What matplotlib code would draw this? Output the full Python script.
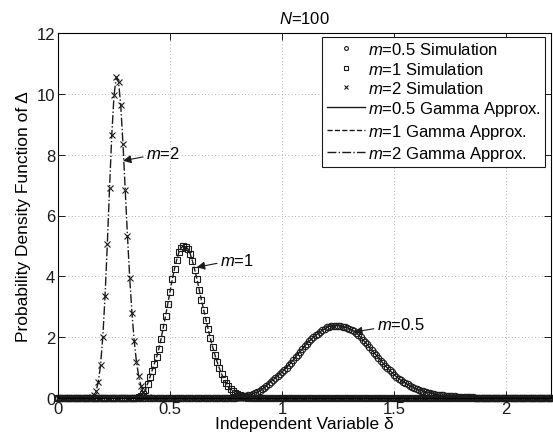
import numpy as np
import matplotlib
matplotlib.use('Agg')
import matplotlib.pyplot as plt

plt.rcParams['font.family'] = ['Liberation Sans', 'DejaVu Sans']
plt.rcParams['mathtext.fontset'] = 'custom'
plt.rcParams['mathtext.it'] = 'Liberation Sans:italic'
plt.rcParams['mathtext.rm'] = 'Liberation Sans'

# grid of the independent variable (step 0.01 from 0 to 2.2)
step = 0.01
delta = np.round(np.arange(0, 2.2 + step / 2, step), 2)

# non-zero parts of the pdfs
m05_start = 0.78
m05_pdf = [0.01, 0.015, 0.02, 0.03, 0.04, 0.055, 0.07, 0.09, 0.11, 0.14,
           0.17, 0.20, 0.24, 0.29, 0.34, 0.40, 0.47, 0.54, 0.60, 0.66,
           0.72, 0.79, 0.86, 0.93, 1.00, 1.08, 1.16, 1.25, 1.34, 1.43,
           1.52, 1.61, 1.70, 1.78, 1.86, 1.93, 2.00, 2.06, 2.12, 2.18,
           2.23, 2.28, 2.32, 2.35, 2.37, 2.38, 2.38, 2.38, 2.37, 2.35,
           2.33, 2.31, 2.28, 2.24, 2.20, 2.15, 2.08, 2.00, 1.92, 1.84,
           1.76, 1.67, 1.58, 1.49, 1.41, 1.32, 1.23, 1.15, 1.06, 0.99,
           0.91, 0.84, 0.77, 0.70, 0.64, 0.59, 0.54, 0.49, 0.45, 0.41,
           0.37, 0.33, 0.30, 0.27, 0.245, 0.22, 0.20, 0.18, 0.16, 0.145,
           0.13, 0.115, 0.10, 0.09, 0.085, 0.08, 0.07, 0.06, 0.055, 0.05,
           0.045, 0.04, 0.035, 0.03, 0.027, 0.024, 0.02, 0.018, 0.015, 0.013,
           0.011, 0.009, 0.008, 0.006, 0.005, 0.004, 0.003, 0.002]

m1_start = 0.35
m1_pdf = [0.01, 0.03, 0.07, 0.14, 0.27, 0.47, 0.68, 0.90, 1.12, 1.35,
          1.62, 1.95, 2.32, 2.70, 3.10, 3.50, 3.90, 4.25, 4.55, 4.80,
          4.94, 5.00, 4.98, 4.90, 4.74, 4.50, 4.22, 3.91, 3.56, 3.22,
          2.90, 2.57, 2.26, 1.96, 1.68, 1.42, 1.19, 0.98, 0.79, 0.63,
          0.50, 0.38, 0.29, 0.22, 0.16, 0.12, 0.085, 0.06, 0.04, 0.025,
          0.015, 0.01]

m2_start = 0.14
m2_pdf = [0.01, 0.03, 0.09, 0.23, 0.53, 1.10, 2.02, 3.35, 5.05, 6.90,
          8.65, 9.95, 10.55, 10.40, 9.62, 8.35, 6.85, 5.33, 3.95, 2.80,
          1.88, 1.20, 0.72, 0.40, 0.20, 0.09, 0.04, 0.015]

labels_sim = ['$m$=0.5 Simulation', '$m$=1 Simulation', '$m$=2 Simulation']
labels_fit = ['$m$=0.5 Gamma Approx.', '$m$=1 Gamma Approx.', '$m$=2 Gamma Approx.']


def full_curve(start, vals):
    y = np.zeros_like(delta)
    i0 = int(round(start / step))
    y[i0:i0 + len(vals)] = vals
    return y


pdf05 = full_curve(m05_start, m05_pdf)
pdf1 = full_curve(m1_start, m1_pdf)
pdf2 = full_curve(m2_start, m2_pdf)

fig = plt.figure(figsize=(5.53, 4.39), dpi=100)
ax = fig.add_axes([58 / 553, 1 - 399 / 439, 493 / 553, 365 / 439])

k = '#1a1a1a'
ax.plot(delta, pdf05, 'o', ms=4.6, mfc='none', mec=k, mew=0.8, clip_on=False,
        label=labels_sim[0])
ax.plot(delta, pdf1, 's', ms=4.2, mfc='none', mec=k, mew=0.8, clip_on=False,
        label=labels_sim[1])
ax.plot(delta, pdf2, 'x', ms=4.5, mec=k, mew=0.8, clip_on=False,
        label=labels_sim[2])
ax.plot(delta, pdf05, '-', color=k, lw=1.0, label=labels_fit[0])
ax.plot(delta, pdf1, '--', color=k, lw=1.0, label=labels_fit[1])
ax.plot(delta, pdf2, '-.', color=k, lw=1.0, label=labels_fit[2])

ax.set_xlim(0, 2.2)
ax.set_ylim(0, 12)
ax.set_xticks([0, 0.5, 1, 1.5, 2])
ax.set_xticklabels(['0', '0.5', '1', '1.5', '2'])
ax.set_yticks(range(0, 13, 2))
ax.tick_params(direction='in', length=5, width=0.7, top=True, right=True,
               labelsize=12, colors=k, pad=2)
for sp in ax.spines.values():
    sp.set_linewidth(0.8)
ax.grid(True, linestyle=(0, (1, 3)), color='#999999', lw=0.6)

ax.set_xlabel('Independent Variable δ', fontsize=12.5, labelpad=0)
ax.set_ylabel('Probability Density Function of Δ', fontsize=12.5, labelpad=4)
ax.set_title('$N$=100', fontsize=12, pad=7)

arrow = dict(arrowstyle='-|>', color=k, lw=0.8, mutation_scale=12,
             shrinkA=0, shrinkB=0)
ax.annotate('$m$=2', xy=(0.29, 7.8), xytext=(0.392, 8.05), fontsize=12,
            va='center', arrowprops=arrow)
ax.annotate('$m$=1', xy=(0.619, 4.30), xytext=(0.722, 4.55), fontsize=12,
            va='center', arrowprops=arrow)
ax.annotate('$m$=0.5', xy=(1.321, 2.17), xytext=(1.422, 2.42), fontsize=12,
            va='center', arrowprops=arrow)

leg = ax.legend(loc='upper right', bbox_to_anchor=(0.988, 0.989), borderaxespad=0,
                fontsize=12, numpoints=1, handlelength=2.3, handletextpad=0.2,
                labelspacing=0.2, borderpad=0.25, fancybox=False, framealpha=1,
                edgecolor=k, markerscale=0.6)
leg.get_frame().set_linewidth(0.8)

fig.savefig('out.png', dpi=100)
